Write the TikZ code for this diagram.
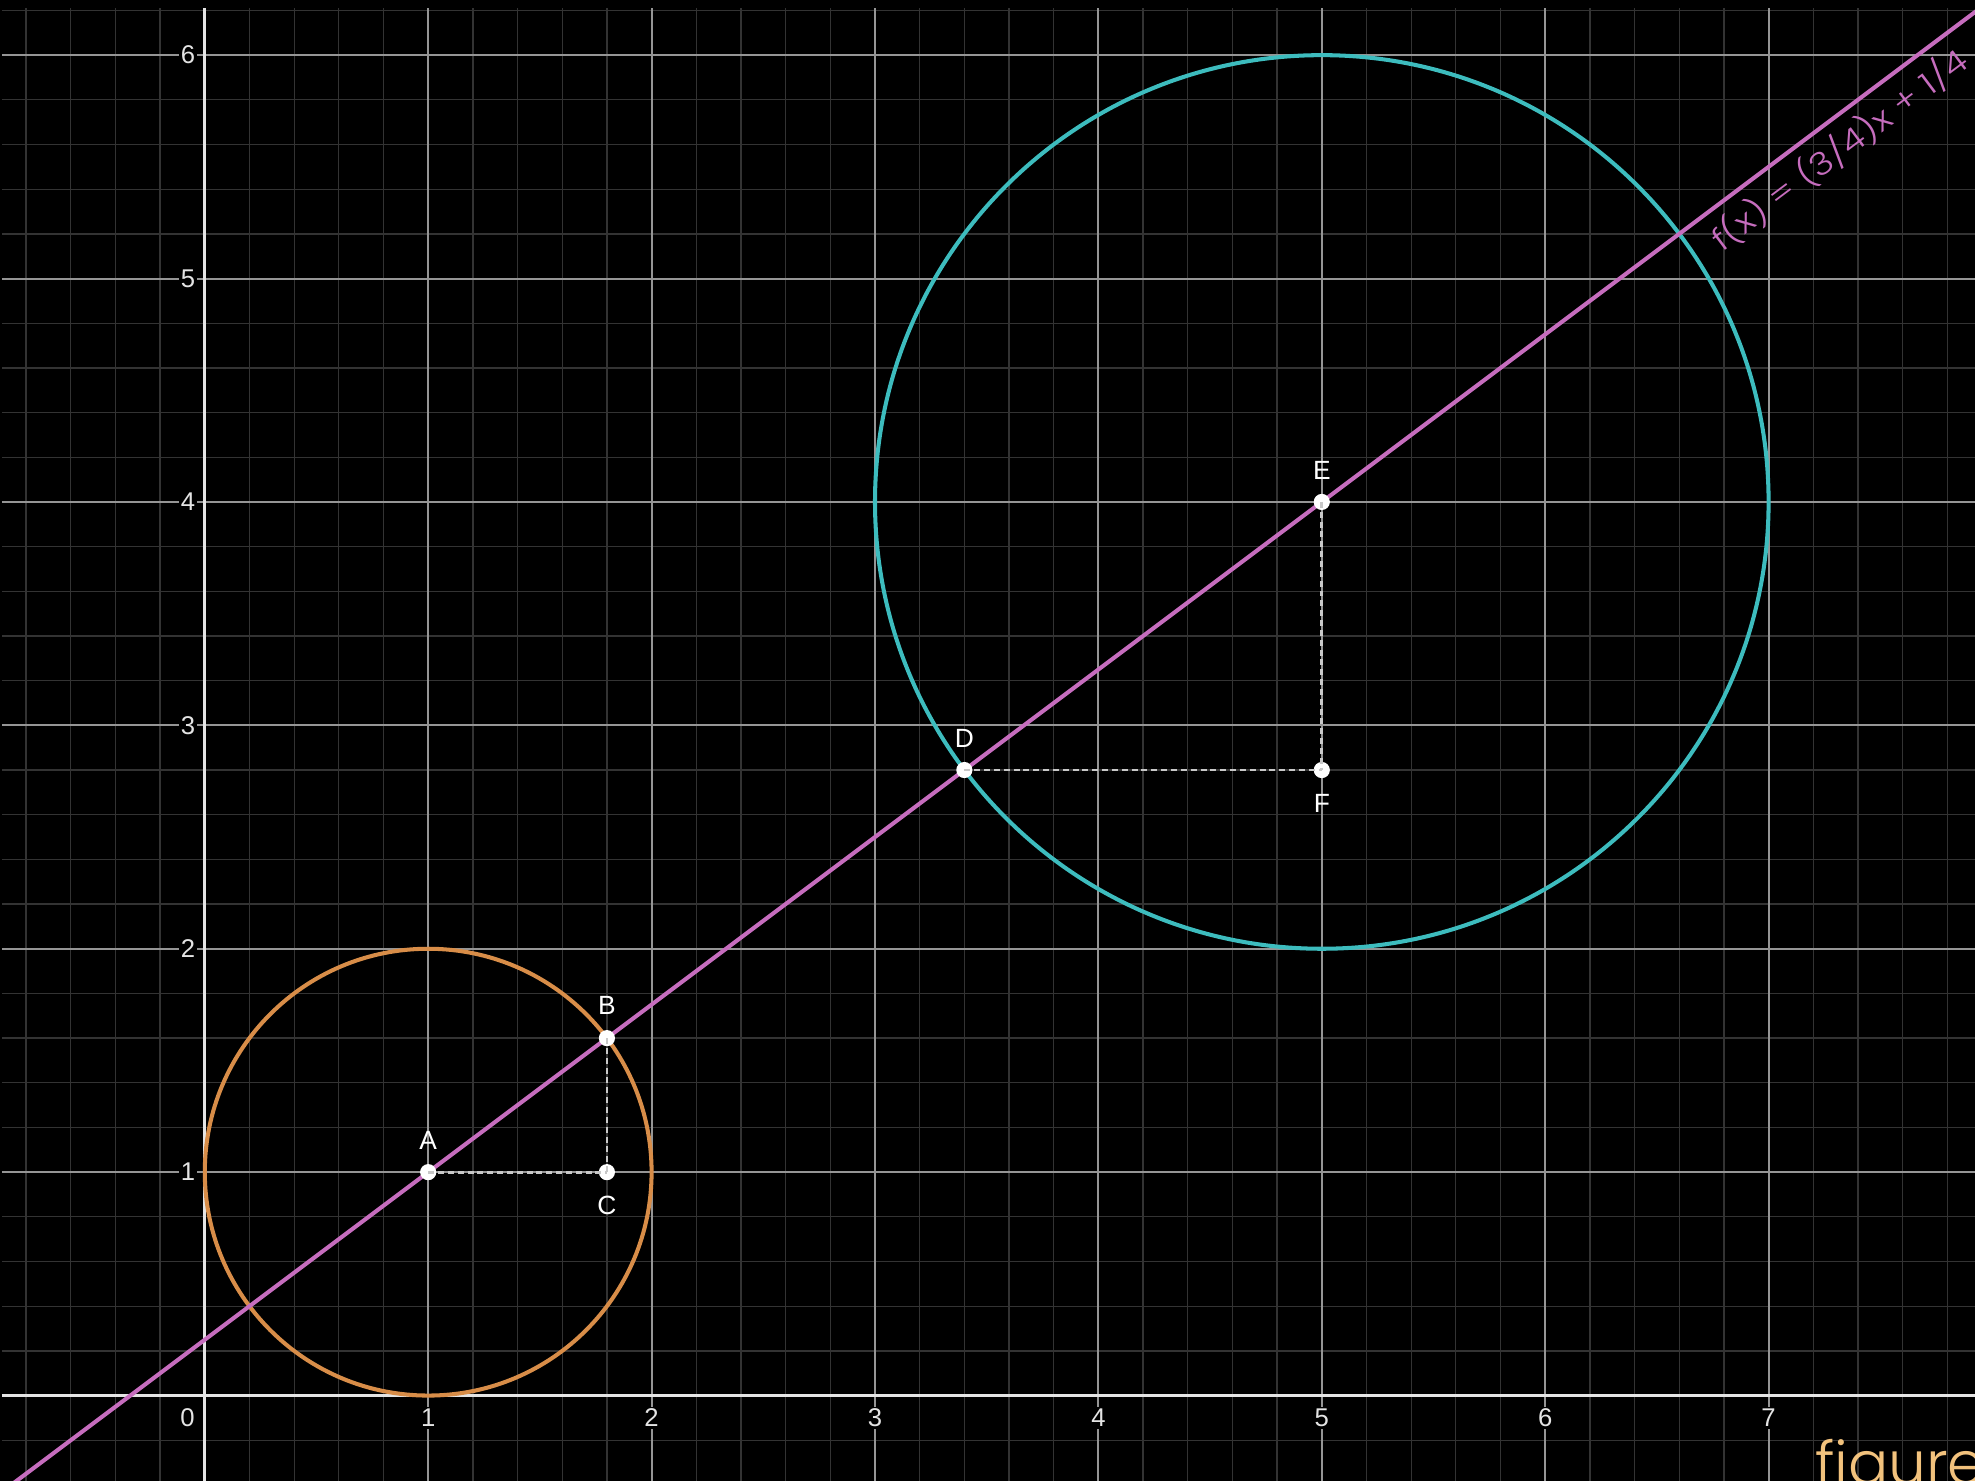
\documentclass[tikz,border=0pt]{standalone}
\usepackage{fontspec}
\setmainfont{Liberation Sans}
\newfontfamily\thinfont{Poppins Light}
\definecolor{minorc}{HTML}{333333}
\definecolor{majorc}{HTML}{959595}
\definecolor{axisc}{HTML}{E4E4E4}
\definecolor{linec}{HTML}{C66DBE}
\definecolor{orangec}{HTML}{D88D48}
\definecolor{tealc}{HTML}{3DBCBE}
\definecolor{dashc}{HTML}{C8C8C8}
\definecolor{figc}{HTML}{F2C27D}
\tikzset{
  minorline/.style={draw=minorc, line width=0.36pt},
  majorline/.style={draw=majorc, line width=0.55pt},
  axisline/.style={draw=axisc, line width=0.85pt},
  ticklab/.style={text=axisc, fill=black, inner sep=0.6pt, font=\fontsize{7.3}{8}\selectfont},
  ptlab/.style={text=white, inner sep=0pt, font=\fontsize{7.5}{9}\selectfont},
  pt/.style={circle, fill=white, inner sep=0pt, minimum size=4.6pt},
  dashseg/.style={draw=dashc, line width=0.8pt, dash pattern=on 1.7pt off 1.1pt},
  curve/.style={line width=1.15pt}
}
\begin{document}
\begin{tikzpicture}[x=2.234cm,y=2.234cm]
\def\Lx{-0.9167}\def\Rx{7.924}\def\Bx{-0.3823}\def\Tx{6.247}\def\GT{6.211}
\useasboundingbox (\Lx,\Bx) rectangle (\Rx,\Tx);
\fill[black] (\Lx,\Bx) rectangle (\Rx,\Tx);
\begin{scope}
\clip (-0.908,\Bx) rectangle (\Rx,\GT);
\foreach \i in {-4,...,39} {\draw[minorline] (\i/5,\Bx) -- (\i/5,\GT);}
\foreach \i in {-1,...,31} {\draw[minorline] (-0.908,\i/5) -- (\Rx,\i/5);}
\foreach \i in {1,...,7} {\draw[majorline] (\i,\Bx) -- (\i,\GT);}
\foreach \i in {1,...,6} {\draw[majorline] (-0.908,\i) -- (\Rx,\i);}
\draw[axisline] (-0.908,0) -- (\Rx,0);
\draw[axisline] (0,\Bx) -- (0,\GT);
\end{scope}
% tick labels
\node[ticklab] (x0) at (-0.077,-0.10) {0};
\foreach \i in {1,...,7} {\node[ticklab] (x\i) at (\i,-0.10) {\i};}
\foreach \i in {1,...,6} {\node[ticklab] (y\i) at (-0.075,\i) {\i};}
\begin{scope}
\clip (\Lx,\Bx) rectangle (\Rx,\Tx);
\draw[curve, orangec] (1,1) circle[radius=1];
\draw[curve, tealc] (5,4) circle[radius=2];
\draw[curve, linec] (-1,-0.5) -- (8,6.25);
\end{scope}
% points
\node[pt] (A) at (1,1) {};
\node[pt] (B) at (1.8,1.6) {};
\node[pt] (C) at (1.8,1) {};
\node[pt] (D) at (3.4,2.8) {};
\node[pt] (E) at (5,4) {};
\node[pt] (F) at (5,2.8) {};
\draw[dashseg] (A.center) -- (C.center);
\draw[dashseg] (B.center) -- (C.center);
\draw[dashseg] (D.center) -- (F.center);
\draw[dashseg] (E.center) -- (F.center);
\node[ptlab] (lA) at (1,1.144) {A};
\node[ptlab] (lB) at (1.8,1.748) {B};
\node[ptlab] (lC) at (1.8,0.851) {C};
\node[ptlab] (lD) at (3.4,2.943) {D};
\node[ptlab] (lE) at (5,4.143) {E};
\node[ptlab] (lF) at (5,2.65) {F};
% line label
\node[text=linec, anchor=base west, inner sep=0pt, rotate=36.87, xscale=1.06, yscale=0.9, font=\thinfont\fontsize{10}{12}\selectfont] (flab) at (6.79,5.115) {f(x) = (3/4)x + 1/4};
% watermark
\node[text=figc, anchor=base west, inner sep=0pt, font=\thinfont\fontsize{17}{20}\selectfont] (fig) at (7.205,-0.396) {figure};
\end{tikzpicture}
\end{document}
